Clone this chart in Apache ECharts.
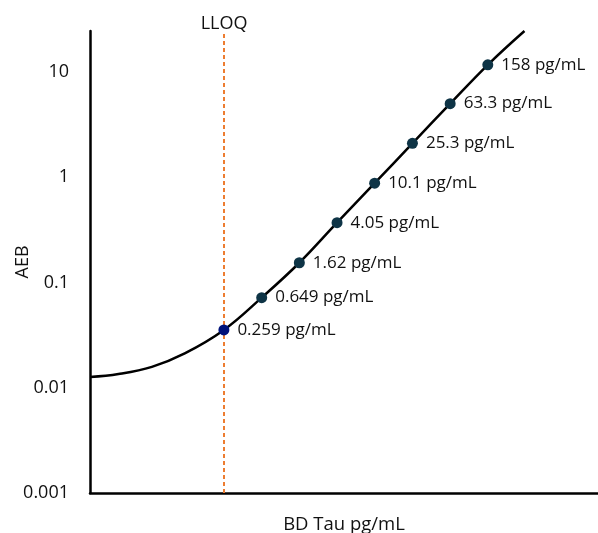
<!DOCTYPE html>
<html>
<head>
<meta charset="utf-8">
<script src="https://cdn.jsdelivr.net/npm/echarts@6/dist/echarts.min.js"></script>
<style>
html,body{margin:0;padding:0;background:#fff;}
#chart{width:598px;height:533px;}
</style>
</head>
<body>
<div id="chart"></div>
<script>
const concentrations = [0.259, 0.649, 1.62, 4.05, 10.1, 25.3, 63.3, 158];
const aebValues = [0.0354, 0.0718, 0.154, 0.370, 0.877, 2.10, 5.0, 11.7];
const pointLabels = ['0.259 pg/mL', '0.649 pg/mL', '1.62 pg/mL', '4.05 pg/mL', '10.1 pg/mL', '25.3 pg/mL', '63.3 pg/mL', '158 pg/mL'];
const curveX = [0.01, 0.02, 0.045, 0.1, 0.259, 0.649, 1.62, 4.05, 10.1, 25.3, 63.3, 158, 385];
const curveY = [0.01265, 0.0135, 0.0158, 0.0212, 0.0354, 0.0718, 0.154, 0.370, 0.877, 2.10, 5.0, 11.7, 24.5];
const yTicks = [0.001, 0.01, 0.1, 1, 10];
const lloq = 0.259;

const FONT = "'Open Sans', sans-serif";
const TXT = '#111';
const chart = echarts.init(document.getElementById('chart'));
const pointData = concentrations.map((c, i) => ({
  value: [c, aebValues[i]],
  label: { formatter: pointLabels[i] },
  itemStyle: { color: i === 0 ? '#00127a' : '#0e3446', opacity: 1 }
}));
chart.setOption({
  animation: false,
  grid: { left: 90, right: 0, top: 31, bottom: 40, containLabel: false, outerBoundsMode: 'none' },
  xAxis: {
    type: 'log', min: 0.01, max: 2300,
    name: 'BD Tau pg/mL', nameLocation: 'middle', nameGap: 22, nameMoveOverlap: false,
    nameTextStyle: { fontFamily: FONT, fontSize: 18.5, color: TXT },
    axisLine: { lineStyle: { color: '#000', width: 2.5 } },
    axisTick: { show: false }, axisLabel: { show: false }, splitLine: { show: false }
  },
  yAxis: {
    type: 'log', min: 0.001, max: 24.5, logBase: 10,
    name: 'AEB', nameLocation: 'middle', nameGap: 58, nameMoveOverlap: false,
    nameTextStyle: { fontFamily: FONT, fontSize: 18, color: TXT },
    axisLine: { show: true, lineStyle: { color: '#000', width: 2.5 } },
    axisTick: { show: false }, splitLine: { show: false },
    axisLabel: {
      margin: 21, fontFamily: FONT, fontSize: 18, color: TXT,
      formatter: v => {
        const t = yTicks.find(k => Math.abs(k - v) / k < 1e-6);
        return t === undefined ? '' : String(t);
      }
    }
  },
  series: [
    {
      type: 'line', data: curveX.map((x, i) => [x, curveY[i]]),
      smooth: 0.4, showSymbol: false, symbol: 'none',
      lineStyle: { color: '#000', width: 2.5 }, z: 2,
      markLine: {
        silent: true, symbol: 'none', z: 1,
        lineStyle: { color: '#ED7D31', type: [4, 3], width: 2 },
        label: { show: true, position: 'end', formatter: 'LLOQ', distance: 2, offset: [0, 4], fontFamily: FONT, fontSize: 18, color: TXT },
        data: [{ xAxis: lloq }]
      }
    },
    {
      type: 'scatter', data: pointData, symbolSize: 11, z: 5,
      itemStyle: { opacity: 1 },
      label: { show: true, position: 'right', distance: 8, fontFamily: FONT, fontSize: 17, color: TXT }
    }
  ]
});
</script>
</body>
</html>
